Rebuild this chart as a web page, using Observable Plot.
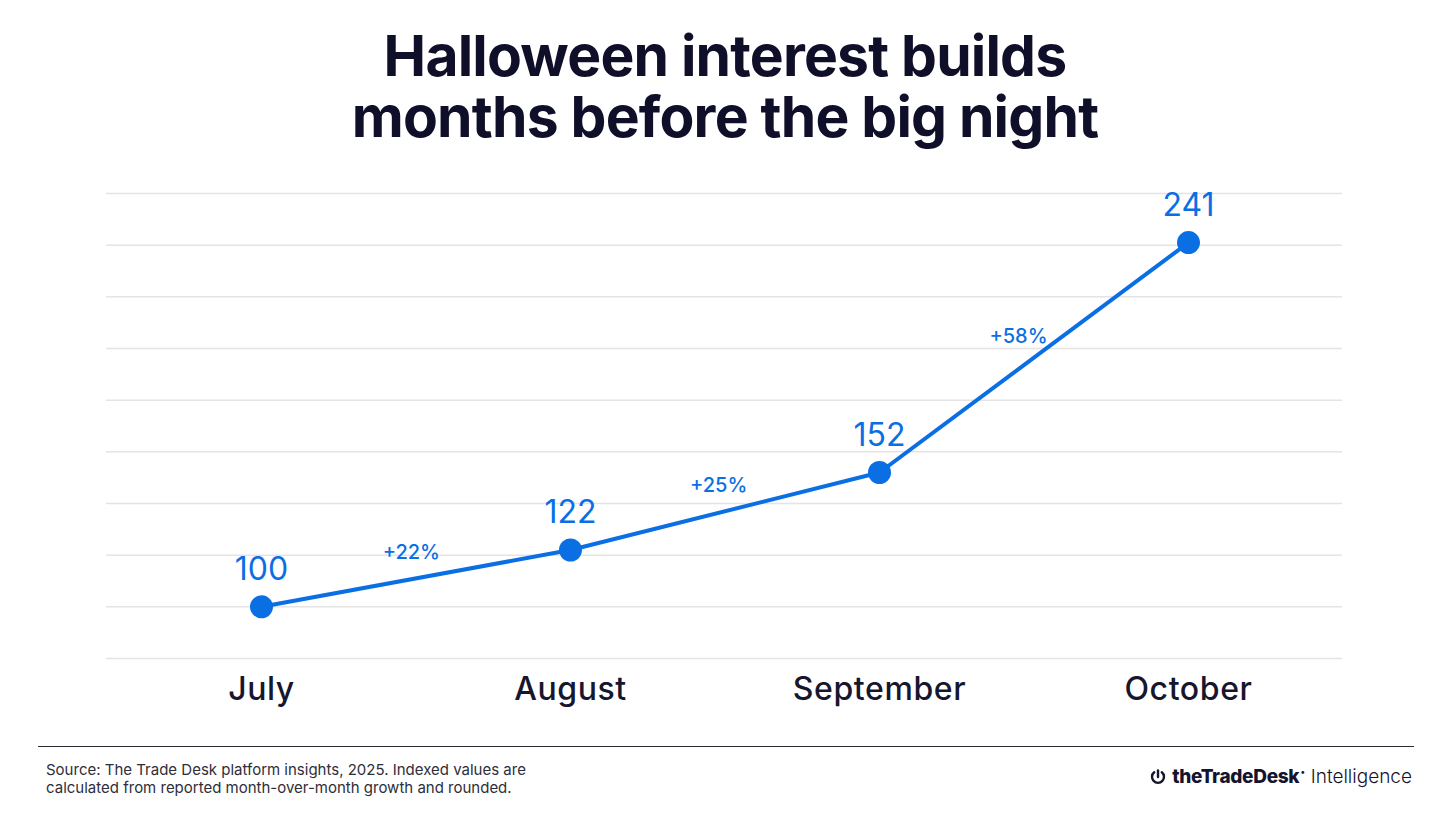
<!DOCTYPE html>
<html>
<head>
<meta charset="utf-8">
<script src="https://cdn.jsdelivr.net/npm/d3@7"></script>
<script src="https://cdn.jsdelivr.net/npm/@observablehq/plot@0.6"></script>
<style>
  html, body { margin: 0; padding: 0; background: #ffffff; }
  body { width: 1450px; height: 814px; position: relative; overflow: hidden; font-family: Inter, "Noto Sans", sans-serif; }
  .title { position: absolute; left: 0; width: 1450px; text-align: center; font-weight: 700; font-size: 57px; line-height: 57px; color: #0f0f2a; letter-spacing: -0.8px; white-space: nowrap; }
  #t1 { top: 27px; }
  #t2 { top: 88px; }
  #chart { position: absolute; left: 0; top: 170px; }
  #rule { position: absolute; left: 38px; top: 746px; width: 1376px; height: 0; border-top: 1.5px solid #2b2b36; }
  #source { position: absolute; left: 46px; top: 761px; font-size: 15px; line-height: 18px; color: #2e2e3a; }
  #logo { position: absolute; right: 38px; top: 765px; font-size: 19px; color: #14142e; display: flex; align-items: center; gap: 6px; }
  #logo b { font-weight: 800; letter-spacing: -0.3px; }
  #logo sup { font-size: 9px; vertical-align: 8px; margin-left: 1px; }
  #logo .intel { font-weight: 300; }
  #chart svg g[aria-label="x-axis tick label"] text { letter-spacing: 0.6px; }
</style>
</head>
<body>
<div class="title" id="t1">Halloween interest builds</div>
<div class="title" id="t2">months before the big night</div>
<div id="chart"></div>
<div id="rule"></div>
<div id="source">Source: The Trade Desk platform insights, 2025. Indexed values are<br>calculated from reported month-over-month growth and rounded.</div>
<div id="logo">
  <svg width="16" height="16" viewBox="0 0 16 16"><path d="M4.2 3.2 A6 6 0 1 0 11.8 3.2" fill="none" stroke="#14142e" stroke-width="2.4" stroke-linecap="round"/><line x1="8" y1="1.5" x2="8" y2="8" stroke="#14142e" stroke-width="2.4" stroke-linecap="round"/></svg>
  <span><b>theTradeDesk</b><sup>•</sup> <span class="intel">Intelligence</span></span>
</div>
<script>
const months = ["July", "August", "September", "October"];
const values = [100, 122, 152, 241];
const changes = ["+22%", "+25%", "+58%"];
const gridTicks = [80, 100, 120, 140, 160, 180, 200, 220, 240, 260];

const blue = "#0b6fe4";
const points = months.map((m, i) => ({month: m, value: values[i]}));
const segs = changes.map((c, i) => ({label: c, from: months[i], to: months[i + 1], v0: values[i], v1: values[i + 1]}));

const perpOffset = 26;
function segmentRender(index, scales, vals, dims, ctx, next) {
  const X = new Float64Array(vals.x.length);
  const Y = new Float64Array(vals.y.length);
  for (const i of index) {
    const s = segs[i];
    const x0 = scales.x(s.from), x1 = scales.x(s.to);
    const y0 = scales.y(s.v0), y1 = scales.y(s.v1);
    const dx = x1 - x0, dy = y1 - y0, L = Math.hypot(dx, dy);
    X[i] = (x0 + x1) / 2 + dy / L * perpOffset;
    Y[i] = (y0 + y1) / 2 - dx / L * perpOffset;
  }
  return next(index, scales, {...vals, x: X, y: Y}, dims, ctx);
}

const chart = Plot.plot({
  width: 1450,
  height: 560,
  marginLeft: 106,
  marginRight: 108,
  marginTop: 23,
  marginBottom: 72,
  style: {fontFamily: "Inter, 'Noto Sans', sans-serif", background: "transparent"},
  x: {type: "point", domain: months, padding: 0.5},
  y: {domain: [80, 260], axis: null},
  marks: [
    Plot.gridY(gridTicks, {stroke: "#e4e4e4", strokeOpacity: 1, strokeWidth: 1.5}),
    Plot.axisX({tickSize: 0, tickPadding: 19, fontSize: 32, fontWeight: 500, fill: "#16162e", label: null}),
    Plot.line(points, {x: "month", y: "value", stroke: blue, strokeWidth: 4}),
    Plot.dot(points, {x: "month", y: "value", r: 11.5, fill: blue, stroke: "none"}),
    Plot.text(points, {x: "month", y: "value", text: d => String(d.value), dy: -37, fontSize: 32, fontWeight: 400, fill: blue}),
    Plot.text(segs, {x: "from", y: "v0", text: "label", fontSize: 20, fontWeight: 500, fill: blue, render: segmentRender})
  ]
});
document.getElementById("chart").appendChild(chart);
</script>
</body>
</html>
